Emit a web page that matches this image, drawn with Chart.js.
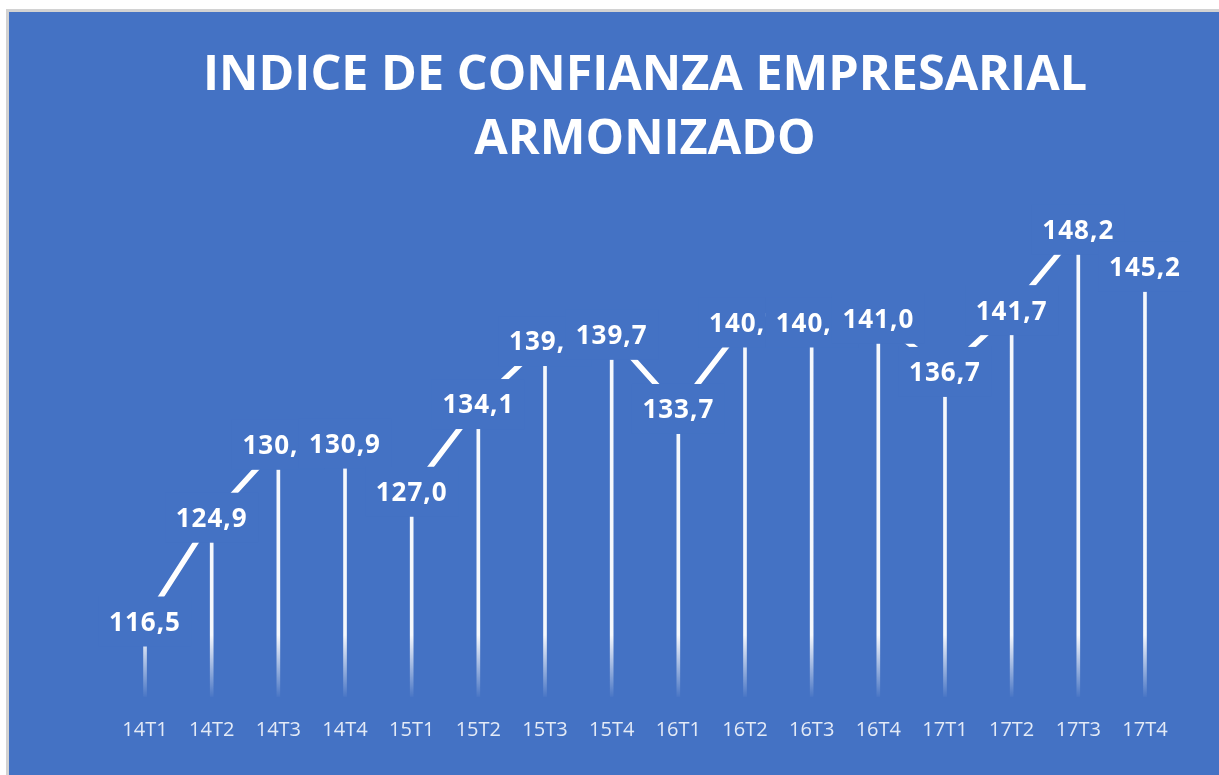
<!DOCTYPE html>
<html>
<head>
<meta charset="utf-8">
<script src="https://cdn.jsdelivr.net/npm/chart.js@4/dist/chart.umd.min.js"></script>
<style>
    html, body { margin: 0; padding: 0; background: #ffffff; width: 1219px; height: 775px; overflow: hidden; }
    #frame {
        position: absolute; left: 6px; top: 9px; width: 1213px; height: 766px;
        border-top: 3px solid #d2d2d2; border-left: 3px solid #d2d2d2;
        background: #4472c4; box-sizing: border-box;
    }
    #box { position: absolute; left: 0; top: 0; width: 1210px; height: 763px; }
</style>
</head>
<body>
<div id="frame">
    <div id="box"><canvas id="iceaChart"></canvas></div>
</div>
<script>
const quarters = ["14T1", "14T2", "14T3", "14T4", "15T1", "15T2", "15T3", "15T4",
                  "16T1", "16T2", "16T3", "16T4", "17T1", "17T2", "17T3", "17T4"];
const indexValues = [116.5, 124.9, 130.8, 130.9, 127.0, 134.1, 139.2, 139.7,
                     133.7, 140.7, 140.7, 141.0, 136.7, 141.7, 148.2, 145.2];
const chartTitle = ["INDICE DE CONFIANZA EMPRESARIAL", "ARMONIZADO"];

const BLUE = "#4472c4";

// data labels drawn on a blue box centred on each line point
const labelPlugin = {
    id: "boxLabels",
    afterDatasetsDraw(chart) {
        const ctx = chart.ctx;
        const meta = chart.getDatasetMeta(1);
        ctx.save();
        ctx.font = "bold 26px 'Open Sans'";
        ctx.letterSpacing = "1px";
        ctx.textAlign = "center";
        ctx.textBaseline = "middle";
        meta.data.forEach((pt, i) => {
            const txt = indexValues[i].toFixed(1).replace(".", ",");
            const w = ctx.measureText(txt).width + 21;
            const h = 50;
            ctx.fillStyle = BLUE;
            ctx.fillRect(pt.x - w / 2, pt.y - h / 2, w, h);
            ctx.fillStyle = "#ffffff";
            ctx.fillText(txt, pt.x, pt.y + 2);
        });
        ctx.restore();
    }
};

const ctx = document.getElementById("iceaChart").getContext("2d");

new Chart(ctx, {
    type: "bar",
    data: {
        labels: quarters,
        datasets: [{
            type: "bar",
            data: indexValues,
            yAxisID: "y",
            barThickness: 3,
            backgroundColor: function (c) {
                const area = c.chart.chartArea;
                if (!area) return "#ffffff";
                const g = c.chart.ctx.createLinearGradient(0, area.bottom - 62, 0, area.bottom + 2);
                g.addColorStop(0, "rgba(255,255,255,0.95)");
                g.addColorStop(1, "rgba(255,255,255,0)");
                return g;
            },
            order: 2
        }, {
            type: "line",
            data: indexValues,
            yAxisID: "y2",
            borderColor: "#ffffff",
            borderWidth: 5.5,
            pointRadius: 0,
            tension: 0,
            order: 1
        }]
    },
    options: {
        responsive: true,
        maintainAspectRatio: false,
        animation: false,
        layout: { padding: { left: 102.7, right: 40.7, top: 0, bottom: 11 } },
        plugins: {
            legend: { display: false },
            tooltip: { enabled: false },
            title: {
                display: true,
                text: chartTitle,
                color: "#ffffff",
                font: { family: "'Open Sans'", size: 48.5, weight: "bold", lineHeight: 1.32 },
                padding: { top: 32, bottom: 28 }
            }
        },
        scales: {
            x: {
                offset: true,
                grid: { display: false, drawTicks: false },
                border: { display: false },
                ticks: {
                    color: "rgba(255,255,255,0.85)",
                    font: { family: "'Open Sans'", size: 20 },
                    padding: 21.5,
                    autoSkip: false,
                    maxRotation: 0
                }
            },
            y: { display: false, min: 112.32, max: 152.54 },
            y2: { display: false, min: 110.39, max: 150.61 }
        }
    },
    plugins: [labelPlugin]
});
</script>
</body>
</html>
